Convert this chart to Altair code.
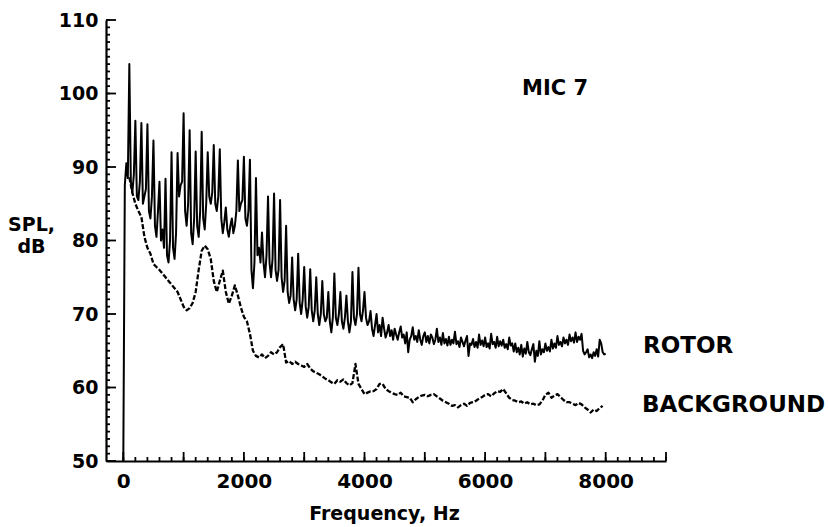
import altair as alt
import pandas as pd

# ---------------- data ----------------
# ROTOR spectrum, sampled every 25 Hz from 0 Hz (blocks of 4 per 100 Hz: harmonic peak, then floor values)
rotor_db = [
    50, 87.5, 90.5, 88.5,
    104, 88, 86.5, 89,
    96.3, 86, 85.5, 88,
    96, 85, 86, 87,
    95.8, 84, 83, 86,
    93.6, 82, 80.5, 84,
    88, 80, 81.5, 79,
    88.4, 78, 77, 80,
    92, 79, 77.5, 81,
    91.9, 86, 87.5, 88,
    97.3, 84, 82, 85,
    95, 81, 79.5, 83,
    92.1, 82, 80.5, 84,
    94.8, 83, 81.5, 85,
    92, 86, 85, 86.5,
    93, 85, 84, 86,
    92.4, 83, 81, 82.5,
    84.5, 81.5, 80.5, 82,
    83, 81, 82, 84,
    90.9, 84, 85, 85.5,
    91.4, 83, 82, 84,
    91, 76, 73.5, 77,
    88.5, 78, 79, 77,
    81.1, 77, 75, 78,
    86, 77, 75, 77.5,
    86.4, 76, 74.5, 76,
    85.5, 75, 73, 74.5,
    82, 73, 71.5, 72.5,
    77.7, 72, 70.5, 72,
    78.2, 71.5, 70, 72,
    76.4, 71, 69.5, 71,
    76.1, 70.5, 69, 70.5,
    75, 70, 68.5, 70,
    74.5, 70, 69, 69.5,
    73, 69, 67.5, 69.5,
    75.5, 69.5, 68.5, 70,
    73, 69, 68, 69.5,
    72.5, 69, 67.5, 69,
    75.7, 69.5, 68.5, 70,
    76.3, 70, 69, 70.5,
    73, 69.5, 68.5, 69,
    70.4, 68, 67, 68.5,
    70, 67.5, 68.5, 67,
    69.5, 68, 66.8, 67.5,
    68.5, 67, 67.8, 66.5,
    68, 67.2, 66.5, 67.5,
    68.3, 66.8, 67.2, 66,
    67.5, 64.8, 66.5, 67,
    68.2, 66.5, 67, 66.2,
    67.8, 66.5, 65.8, 67,
    67.5, 66.2, 67, 66,
    67.2, 66.8, 65.9, 66.5,
    68, 66.2, 66.8, 65.8,
    67.4, 66, 66.6, 65.7,
    66.9, 65.8, 66.5, 66,
    67.6, 65.9, 66.3, 65.5,
    66.8, 66.2, 65.6, 66.4,
    67, 64.3, 66, 65.8,
    66.6, 65.5, 66.2, 65.4,
    67.2, 65.8, 66.4, 65.6,
    66.8, 65.5, 66, 65.3,
    67.3, 65.9, 66.2, 65.4,
    66.9, 65.6, 66.3, 65.7,
    66.5, 65.4, 65.9, 65.2,
    66.8, 65.7, 66, 64.9,
    66, 64.8, 65.4, 64.5,
    65.8, 64.2, 65.3, 64.6,
    66.2, 64.8, 64.4, 65.2,
    65.9, 63.5, 65, 64.3,
    66.3, 64.5, 65.2, 64.8,
    66, 65, 65.5, 64.9,
    66.5, 65.3, 66, 65.4,
    67, 65.8, 66.2, 65.6,
    66.8, 66, 66.5, 65.8,
    67.2, 66.3, 66.8, 66.1,
    67.5, 66.2, 66.9, 66.5,
    67.3, 65, 64.5, 64.8,
    65.2, 64.1, 64.5, 64,
    64.8, 64.3, 65.2, 64.2,
    66.5, 66, 64.8, 64.5,
    64.6,
]
rotor_step_hz = 25

# BACKGROUND spectrum, sampled every 50 Hz from 100 Hz
bg_db = [
    88.6, 86.5, 85, 84, 83.2, 80.5, 79, 78.2, 76.8, 76.4,
    76, 75.5, 75, 74.5, 74, 73.5, 73, 72, 71, 70.5,
    70.8, 71.5, 73, 76, 78.6, 79.3, 78.8, 77.5, 74.5, 73,
    74.5, 75.9, 73, 71.4, 72.5, 73.9, 72.5, 70.9, 69.6, 69,
    67.3, 65, 64.3, 64.1, 64.5, 64, 64.3, 64.8, 64.5, 64.8,
    65.5, 65.9, 63.4, 63.6, 63.2, 63.5, 63.2, 63, 62.8, 63.2,
    62.6, 62.2, 62, 61.8, 61.5, 61.2, 61, 60.7, 60.5, 61,
    60.8, 61.1, 60.6, 60.3, 60.6, 63.2, 60.5, 59.8, 59.1, 59.3,
    59.5, 59.5, 59.8, 60.5, 60.5, 59.8, 59.5, 59.3, 59.1, 59,
    59.3, 58.8, 58.7, 58.6, 58, 58.4, 58.7, 58.9, 59, 58.8,
    59, 59.1, 58.8, 58.5, 58.2, 58, 57.8, 57.5, 57.6, 57.3,
    57.6, 57.8, 57.5, 57.9, 58, 58.2, 58.5, 58.7, 59, 59.1,
    58.8, 59.2, 59.5, 59.4, 59.8, 59.2, 58.6, 58.3, 58.2, 58,
    58.1, 57.8, 58, 57.7, 57.8, 57.6, 57.7, 58.2, 59, 59.3,
    58.6, 58.9, 59.1, 58.7, 58.3, 58, 58, 57.8, 57.6, 57.9,
    57.7, 57.3, 57, 56.6, 57, 56.8, 57.2, 57.5,
]
bg_start_hz = 100
bg_step_hz = 50

x_label_values = [0, 2000, 4000, 6000, 8000]
y_label_values = [50, 60, 70, 80, 90, 100, 110]
x_major_ticks = [0, 1000, 2000, 3000, 4000, 5000, 6000, 7000, 8000, 9000]
x_minor_ticks = list(range(0, 9001, 200))
y_major_ticks = [50, 60, 70, 80, 90, 100, 110]
y_minor_ticks = list(range(50, 111, 1))

series_labels = ["ROTOR", "BACKGROUND"]
panel_label = "MIC 7"
x_title = "Frequency, Hz"
y_title = ["SPL,", "dB"]

# ---------------- tables ----------------
rotor = pd.DataFrame({"freq": [rotor_step_hz * i for i in range(len(rotor_db))], "spl": rotor_db})
bg = pd.DataFrame({"freq": [bg_start_hz + bg_step_hz * i for i in range(len(bg_db))], "spl": bg_db})

W, H = 560, 441
FONT = "DejaVu Sans"

xscale = alt.Scale(domain=[-287, 9000], nice=False, zero=False)
yscale = alt.Scale(domain=[50, 110], nice=False, zero=False)

x_axis = alt.Axis(
    values=x_label_values, format="d", grid=False, ticks=False, tickSize=0,
    domainColor="black", domainWidth=2.2, labelFont=FONT, labelFontWeight="bold",
    labelFontSize=20, labelColor="black", labelPadding=10,
    title=x_title, titleFont=FONT, titleFontWeight="bold", titleFontSize=19,
    titleColor="black", titleX=278, titleY=58, titleAlign="center",
    titleBaseline="alphabetic",
)
y_axis = alt.Axis(
    values=y_label_values, format="d", grid=False, ticks=False, tickSize=0,
    domainColor="black", domainWidth=2.2, labelFont=FONT, labelFontWeight="bold",
    labelFontSize=19, labelColor="black", labelPadding=8,
    title=y_title, titleFont=FONT, titleFontWeight="bold", titleFontSize=19,
    titleColor="black", titleAngle=0, titleX=-75, titleY=210, titleAlign="center",
    titleBaseline="alphabetic", titleLineHeight=22,
)

rotor_line = alt.Chart(rotor).mark_line(
    color="black", strokeWidth=2, strokeJoin="round"
).encode(
    x=alt.X("freq:Q", scale=xscale, axis=x_axis),
    y=alt.Y("spl:Q", scale=yscale, axis=y_axis),
)

bg_line = alt.Chart(bg).mark_line(
    color="black", strokeWidth=2.3, strokeDash=[5, 2], strokeJoin="round"
).encode(
    x=alt.X("freq:Q", scale=xscale),
    y=alt.Y("spl:Q", scale=yscale),
)

def xticks(vals, length):
    return alt.Chart(pd.DataFrame({"freq": vals})).mark_rule(
        color="black", strokeWidth=1.8
    ).encode(
        x=alt.X("freq:Q", scale=xscale),
        y=alt.value(H),
        y2=alt.value(H - length),
    )

def yticks(vals, length):
    return alt.Chart(pd.DataFrame({"spl": vals})).mark_rule(
        color="black", strokeWidth=1.8
    ).encode(
        y=alt.Y("spl:Q", scale=yscale),
        x=alt.value(0),
        x2=alt.value(length),
    )

def label(text, x, y, size, align="left"):
    return alt.Chart(pd.DataFrame({"t": [text]})).mark_text(
        font=FONT, fontWeight="bold", fontSize=size, color="black",
        align=align, baseline="alphabetic",
    ).encode(text="t:N", x=alt.value(x), y=alt.value(y))

chart = alt.layer(
    rotor_line,
    bg_line,
    xticks(x_minor_ticks, 4),
    xticks(x_major_ticks, 9),
    yticks(y_minor_ticks, 4),
    yticks(y_major_ticks, 10),
    label(series_labels[0], 537, 333, 23),
    label(series_labels[1], 536, 392, 23),
    label(panel_label, 449, 75, 21, align="center"),
).properties(
    width=W, height=H,
    autosize=alt.AutoSizeParams(type="none"),
    padding={"left": 106, "top": 20, "right": 162, "bottom": 66},
).configure_view(strokeOpacity=0)

chart.save("out.html", embed_options={"renderer": "svg", "actions": False})
